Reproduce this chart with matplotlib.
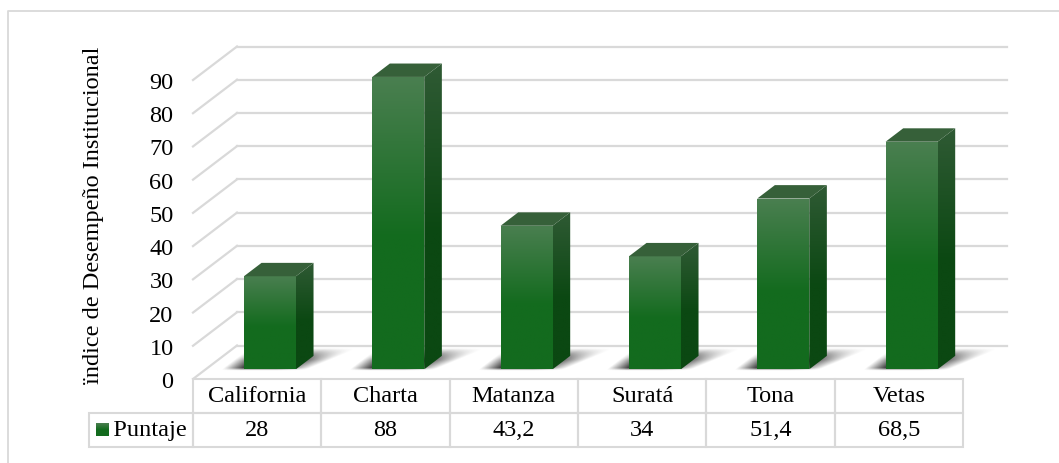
"""Puntaje por municipio, 3D style bars with a data table underneath."""
import matplotlib
matplotlib.use("Agg")
import matplotlib.pyplot as plt
from matplotlib.lines import Line2D
from matplotlib.patches import Polygon
import numpy as np

plt.rcParams['font.family'] = ['Liberation Serif', 'DejaVu Serif']

categories = ['California', 'Charta', 'Matanza', 'Surat\u00e1', 'Tona', 'Vetas']
puntaje = [28, 88, 43.2, 34, 51.4, 68.5]
puntaje_labels = ['28', '88', '43,2', '34', '51,4', '68,5']
y_ticks = list(range(0, 100, 10))

GRID = '#d9d9d9'
FONT = 17.5

# axes size in pixels, the depth and shadow are worked out from it
PX_W, PX_H = 770.0, 299.0
PX_X = PX_W / 6
PX_Y = PX_H / 90

# full depth of the 3D box, in data units
DX, DY = 44 / PX_X, 33.5 / PX_Y
BAR_W = 52 / PX_X


def gradient(ax, poly, top, bottom, y0, y1):
    """Fill a polygon with a vertical gradient, light at the top."""
    top = np.array(matplotlib.colors.to_rgb(top))
    bottom = np.array(matplotlib.colors.to_rgb(bottom))
    t = np.clip(np.linspace(0, 1, 100) / 0.55, 0, 1)[:, None, None]
    img = top[None, None, :] * (1 - t) + bottom[None, None, :] * t
    xs = [p[0] for p in poly]
    im = ax.imshow(img, extent=(min(xs), max(xs), y0, y1), aspect='auto',
                   origin='upper', zorder=3, interpolation='bilinear')
    patch = Polygon(poly, closed=True, transform=ax.transData,
                    fc='none', ec='none')
    ax.add_patch(patch)
    patch.set_clip_on(False)
    # images get cut at the axes box otherwise, the tall bar pokes out of it
    im.set_clip_box(ax.figure.bbox)
    im.set_clip_path(patch)


def ramp(v, a, b):
    return np.clip((v - a) / (b - a), 0, 1)


def shadow(ax, x0, y0):
    """Blurred shadow on the floor, x0 and y0 are the bar's front left corner."""
    xs = np.linspace(-32, 120, 152)
    ys = np.linspace(-2, 24, 52)
    X, Y = np.meshgrid(xs, ys)
    fade = ramp(X - 1.3 * Y, -22, -2) * ramp(-(X - 2.4 * Y), -64, -34)
    fade = fade * ramp(-Y, -21, -9) * ramp(Y, -1.5, 1)
    rgba = np.zeros((len(ys), len(xs), 4))
    rgba[..., :3] = 0.15
    rgba[..., 3] = fade * 0.9
    im = ax.imshow(rgba, extent=(x0 + xs[0] / PX_X, x0 + xs[-1] / PX_X,
                                 y0 + ys[0] / PX_Y, y0 + ys[-1] / PX_Y),
                   origin='lower', aspect='auto', zorder=2,
                   interpolation='bilinear')
    im.set_clip_box(ax.figure.bbox)
    im.set_clip_path(None)


fig = plt.figure(figsize=(10.59, 4.64), dpi=100)
# chart frame, cropped on the right and at the bottom in the original
fig.add_artist(Line2D([8 / 1059, 8 / 1059, 1], [0, 452.5 / 464, 452.5 / 464],
                      color=GRID, lw=1.3, zorder=-1))

ax = fig.add_axes([193 / 1059, 84 / 464, PX_W / 1059, PX_H / 464])
ax.patch.set_alpha(0)
for s in ax.spines.values():
    s.set_visible(False)

# grid on the back wall and the left wall of the box
far_right = 5.5 + DX
for v in y_ticks:
    ax.plot([-0.5 + DX, far_right], [v + DY, v + DY], color=GRID, lw=1.6,
            clip_on=False, zorder=1)
    ax.plot([-0.5, -0.5 + DX], [v, v + DY], color=GRID, lw=1.6,
            clip_on=False, zorder=1)

# bars
for i, v in enumerate(puntaje):
    x0 = i + 0.29 * DX - BAR_W / 2
    x1 = x0 + BAR_W
    y0 = 0.29 * DY
    y1 = y0 + v
    ddx, ddy = 0.4 * DX, 0.4 * DY
    shadow(ax, x0, y0)
    gradient(ax, [(x0, y0), (x1, y0), (x1, y1), (x0, y1)],
             '#4a7f50', '#136b1e', y0, y1)
    gradient(ax, [(x1, y0), (x1 + ddx, y0 + ddy), (x1 + ddx, y1 + ddy), (x1, y1)],
             '#2f5a34', '#0b4812', y0, y1 + ddy)
    ax.add_patch(Polygon([(x0, y1), (x1, y1), (x1 + ddx, y1 + ddy), (x0 + ddx, y1 + ddy)],
                         closed=True, fc='#366039', ec='none', zorder=4,
                         clip_on=False))

ax.set_xlim(-0.5, 5.5)
ax.set_ylim(0, 90)
ax.set_xticks([])
ax.set_yticks(y_ticks)
ax.tick_params(axis='y', length=0, pad=14, labelsize=FONT)
ax.set_ylabel('\u00efndice de Desempe\u00f1o Institucional', fontsize=FONT)
ax.yaxis.set_label_coords(-89 / PX_W, 165 / PX_H)

# data table, the row header with the legend key sits left of the bbox
tbl = ax.table(cellText=[puntaje_labels], colLabels=categories,
               cellLoc='center', colWidths=[1 / 6] * 6,
               bbox=[0, -68 / PX_H, 1, 68 / PX_H])
tbl.add_cell(1, -1, width=104 / PX_W, height=tbl[(1, 0)].get_height(),
             text='   Puntaje', loc='center')
tbl.auto_set_font_size(False)
tbl.set_fontsize(FONT)
for cell in tbl.get_celld().values():
    cell.set_edgecolor(GRID)
    cell.set_linewidth(1.5)
    cell.set_facecolor('none')

# legend key
key = ax.inset_axes([(96 - 193) / PX_W, -57 / PX_H, 13 / PX_W, 13 / PX_H])
key.axis('off')
key.imshow(np.linspace(0, 1, 30)[:, None], aspect='auto',
           cmap=matplotlib.colors.LinearSegmentedColormap.from_list(
               'key', ['#4a7f50', '#136b1e', '#136b1e']))

fig.savefig('out.png', dpi=100)
